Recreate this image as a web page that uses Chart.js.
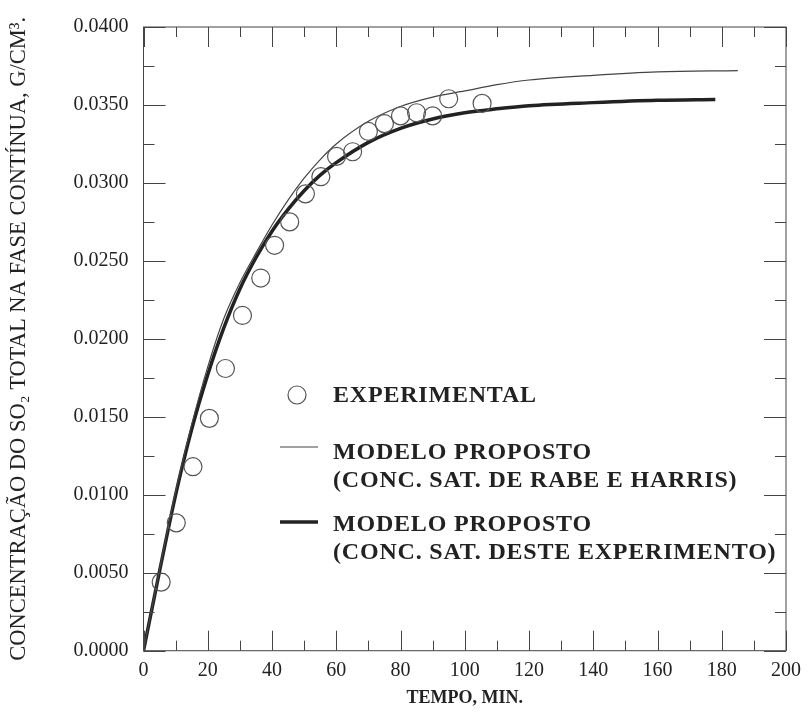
<!DOCTYPE html>
<html>
<head>
<meta charset="utf-8">
<script src="https://cdn.jsdelivr.net/npm/chart.js@4.4.1/dist/chart.umd.min.js"></script>
<style>
  html, body { margin: 0; padding: 0; background: #fff; }
</style>
</head>
<body>
<canvas id="so2-canvas" width="809" height="721"></canvas>
<script>
// Experimental SO2 concentration vs time (min, g/cm3)
const expTime = [5.5, 10.2, 15.4, 20.5, 25.5, 30.8, 36.5, 40.8, 45.5, 50.4, 55.2, 60.1, 65.1, 70, 75, 80, 85, 90, 95, 105.4];
const expConc = [0.0044, 0.0082, 0.0118, 0.0149, 0.0181, 0.0215, 0.0239, 0.0260, 0.0275, 0.0293, 0.0304, 0.0317, 0.0320, 0.0333, 0.0338, 0.0343, 0.0345, 0.0343, 0.0354, 0.0351];

// Model, saturation conc. of Rabe & Harris (thin line)
const rabeTime = [0, 5, 10, 15, 20, 25, 30, 35, 40, 45, 50, 55, 60, 70, 80, 90, 100, 110, 120, 140, 160, 185];
const rabeConc = [0, 0.0052, 0.0102, 0.0145, 0.0182, 0.0213, 0.0236, 0.0255, 0.0273, 0.0289, 0.0303, 0.0315, 0.0325, 0.03395, 0.0349, 0.0355, 0.0359, 0.0363, 0.0366, 0.0369, 0.03712, 0.0372];

// Model, saturation conc. from this experiment (thick line)
const thisTime = [0, 5, 10, 15, 20, 25, 30, 35, 40, 45, 50, 55, 60, 70, 80, 90, 100, 110, 120, 140, 160, 178];
const thisConc = [0, 0.0051, 0.0100, 0.0142, 0.0177, 0.0207, 0.0232, 0.0252, 0.0269, 0.0283, 0.0295, 0.0305, 0.0313, 0.0326, 0.0335, 0.0341, 0.03450, 0.03475, 0.03495, 0.03515, 0.0353, 0.03535];

const legendLabels = [
  ['EXPERIMENTAL'],
  ['MODELO PROPOSTO', '(CONC. SAT. DE RABE E HARRIS)'],
  ['MODELO PROPOSTO', '(CONC. SAT. DESTE EXPERIMENTO)']
];

const SERIF = "'Liberation Serif', 'Times New Roman', serif";
const INK = '#222';

function toPoints(xs, ys) {
  return xs.map((x, i) => ({x: x, y: ys[i]}));
}

// inward tick marks on all four sides plus the box
const frameTicks = {
  id: 'frameTicks',
  afterDraw(chart) {
    const {ctx, chartArea: a, scales: {x, y}} = chart;
    ctx.save();
    ctx.strokeStyle = '#444';
    ctx.lineWidth = 1;
    ctx.strokeRect(a.left, a.top, a.right - a.left, a.bottom - a.top);
    ctx.beginPath();
    for (let v = 0; v <= 200; v += 10) {
      const px = Math.round(x.getPixelForValue(v)) + 0.5;
      const len = v % 20 === 0 ? 20 : 10;
      ctx.moveTo(px, a.bottom); ctx.lineTo(px, a.bottom - len);
      ctx.moveTo(px, a.top); ctx.lineTo(px, a.top + len);
    }
    for (let i = 0; i <= 16; i++) {
      const v = i * 0.0025;
      const py = Math.round(y.getPixelForValue(v)) + 0.5;
      const len = i % 2 === 0 ? 22 : 11;
      ctx.moveTo(a.left, py); ctx.lineTo(a.left + len, py);
      ctx.moveTo(a.right, py); ctx.lineTo(a.right - len, py);
    }
    ctx.stroke();
    ctx.restore();
  }
};

// hand-placed legend inside the plot
const boxLegend = {
  id: 'boxLegend',
  afterDraw(chart) {
    const ctx = chart.ctx;
    ctx.save();
    ctx.fillStyle = INK;
    ctx.font = 'bold 24px ' + SERIF;
    ctx.textBaseline = 'middle';
    if ('letterSpacing' in ctx) ctx.letterSpacing = '0.8px';

    // circle sample
    ctx.strokeStyle = '#555';
    ctx.lineWidth = 1.2;
    ctx.beginPath();
    ctx.arc(297, 395, 9, 0, Math.PI * 2);
    ctx.stroke();
    ctx.fillText(legendLabels[0][0], 333, 396);

    // thin line sample
    ctx.strokeStyle = '#444';
    ctx.lineWidth = 1.2;
    ctx.beginPath();
    ctx.moveTo(280, 447); ctx.lineTo(318, 447);
    ctx.stroke();
    ctx.fillText(legendLabels[1][0], 333, 453);
    ctx.fillText(legendLabels[1][1], 333, 481);

    // thick line sample
    ctx.strokeStyle = '#222';
    ctx.lineWidth = 3.5;
    ctx.beginPath();
    ctx.moveTo(280, 522); ctx.lineTo(318, 522);
    ctx.stroke();
    ctx.fillText(legendLabels[2][0], 333, 525);
    ctx.fillText(legendLabels[2][1], 333, 553);
    ctx.restore();
  }
};

const ctx = document.getElementById('so2-canvas').getContext('2d');
const so2Chart = new Chart(ctx, {
  type: 'line',
  data: {
    datasets: [
      {
        label: 'Experimental',
        data: toPoints(expTime, expConc),
        showLine: false,
        pointStyle: 'circle',
        pointRadius: 9,
        pointBorderWidth: 1.2,
        pointBorderColor: '#555',
        pointBackgroundColor: 'rgba(0,0,0,0)'
      },
      {
        label: 'Rabe e Harris',
        data: toPoints(rabeTime, rabeConc),
        borderColor: '#444',
        borderWidth: 1.2,
        pointRadius: 0,
        cubicInterpolationMode: 'monotone',
        fill: false
      },
      {
        label: 'Deste experimento',
        data: toPoints(thisTime, thisConc),
        borderColor: '#222',
        borderWidth: 3.5,
        pointRadius: 0,
        cubicInterpolationMode: 'monotone',
        fill: false
      }
    ]
  },
  options: {
    responsive: false,
    animation: false,
    layout: { padding: { top: 20, right: 17.5, left: 0, bottom: 0 } },
    plugins: {
      legend: { display: false },
      tooltip: { enabled: false }
    },
    scales: {
      x: {
        type: 'linear',
        min: 0,
        max: 200,
        grid: { display: false, drawTicks: false },
        border: { display: false },
        ticks: {
          stepSize: 20,
          padding: 8,
          color: INK,
          font: { family: SERIF, size: 20 },
          maxRotation: 0
        },
        title: {
          display: true,
          text: 'TEMPO, MIN.',
          color: INK,
          font: { family: SERIF, size: 18, weight: 'bold' },
          padding: { top: 0, bottom: 12 }
        },
        afterFit: (scale) => { scale.height = 70.3; }
      },
      y: {
        type: 'linear',
        min: 0,
        max: 0.04,
        grid: { display: false, drawTicks: false },
        border: { display: false },
        ticks: {
          stepSize: 0.005,
          padding: 15,
          color: INK,
          font: { family: SERIF, size: 20 },
          callback: (v) => v.toFixed(4)
        },
        title: {
          display: true,
          text: 'CONCENTRAÇÃO DO SO₂ TOTAL NA FASE CONTÍNUA, G/CM³.',
          color: INK,
          font: { family: SERIF, size: 22.5 },
          padding: { top: 6, bottom: 0 }
        },
        afterFit: (scale) => { scale.width = 143.5; }
      }
    }
  },
  plugins: [frameTicks, boxLegend]
});
</script>
</body>
</html>
